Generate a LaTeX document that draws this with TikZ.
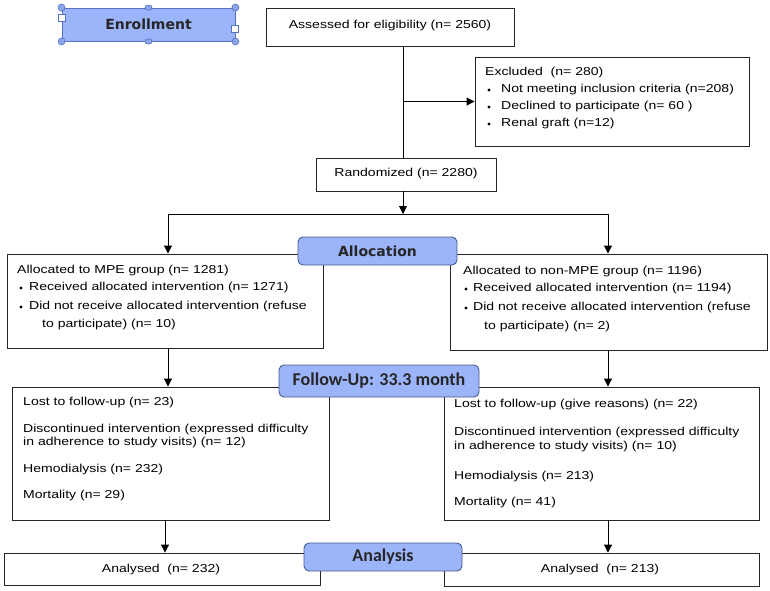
\documentclass[tikz,border=0pt]{standalone}
\usepackage{fontspec}
\setmainfont{Liberation Sans}[FakeStretch=1.22]
\newfontfamily\lblfont{DejaVu Sans}
\newfontfamily\calfont{Carlito}
\usetikzlibrary{arrows.meta,shapes.geometric}
\definecolor{lblfill}{RGB}{155,180,250}
\definecolor{lbldraw}{RGB}{70,90,140}
\definecolor{hdlfill}{RGB}{140,165,235}
\definecolor{hdldraw}{RGB}{85,115,195}
\begin{document}
\begin{tikzpicture}[x=1pt,y=-1pt,
  box/.style={draw=black!85, line width=0.9pt, rectangle, inner sep=0pt},
  lbl/.style={draw=lbldraw, fill=lblfill, line width=0.9pt, rounded corners=5pt, inner sep=0pt},
  txt/.style={anchor=west, inner sep=0pt, font=\fontsize{11.5}{13}\selectfont},
  ctxt/.style={inner sep=0pt, font=\fontsize{11.5}{13}\selectfont},
  bul/.style={diamond, fill=black, inner sep=0pt, minimum size=3.6pt},
  arr/.style={line width=0.9pt, -{Triangle[length=8pt,width=8pt]}},
  ln/.style={line width=0.9pt},
  hc/.style={circle, draw=hdldraw, fill=hdlfill, line width=0.6pt, minimum size=7pt, inner sep=0pt},
  hs/.style={rectangle, draw=hdldraw, fill=white, line width=0.6pt, minimum size=7pt, inner sep=0pt},
  ho/.style={rectangle, rounded corners=2.5pt, draw=hdldraw, fill=hdlfill, line width=0.6pt, minimum width=7pt, minimum height=5pt, inner sep=0pt}]
\useasboundingbox (0,0) rectangle (770,590);

% boxes
\node[box, minimum width=248pt, minimum height=38pt] (assess) at (390,27) {};
\node[ctxt] (assessT) at (390,26) {Assessed for eligibility (n= 2560)};
\node[box, minimum width=274pt, minimum height=89pt] (excl) at (612,101.5) {};
\node[box, minimum width=180pt, minimum height=33pt] (rand) at (406,174.5) {};
\node[ctxt] (randT) at (406,174) {Randomized (n= 2280)};
\node[box, minimum width=316pt, minimum height=94pt] (allocL) at (165,301) {};
\node[box, minimum width=317pt, minimum height=96pt] (allocR) at (608.5,302) {};
\node[box, minimum width=317pt, minimum height=133pt] (fuL) at (170.5,453.5) {};
\node[box, minimum width=315pt, minimum height=133pt] (fuR) at (601.5,453.5) {};
\node[box, minimum width=316pt, minimum height=32pt] (anL) at (162,569) {};
\node[box, minimum width=315pt, minimum height=33pt] (anR) at (601.5,569.5) {};

% excluded text
\node[txt] (ex0) at (485,73) {Excluded\ \ (n= 280)};
\node[bul] (exb1) at (489,90) {};
\node[txt] (ex1) at (501,90) {Not meeting inclusion criteria (n=208)};
\node[bul] (exb2) at (489,107) {};
\node[txt] (ex2) at (501,107) {Declined to participate (n= 60 )};
\node[bul] (exb3) at (489,124) {};
\node[txt] (ex3) at (501,124) {Renal graft (n=12)};

% allocation texts
\node[txt] (al0) at (17,271) {Allocated to MPE group (n= 1281)};
\node[bul] (alb1) at (21,288) {};
\node[txt] (al1) at (29,288) {Received allocated intervention (n= 1271)};
\node[bul] (alb2) at (21,307) {};
\node[txt] (al2) at (29,307) {Did not receive allocated intervention (refuse};
\node[txt] (al3) at (42,325) {to participate) (n= 10)};

\node[txt] (ar0) at (463,272) {Allocated to non-MPE group (n= 1196)};
\node[bul] (arb1) at (466,289) {};
\node[txt] (ar1) at (473,289) {Received allocated intervention (n= 1194)};
\node[bul] (arb2) at (466,308) {};
\node[txt] (ar2) at (473,308) {Did not receive allocated intervention (refuse};
\node[txt] (ar3) at (484,327) {to participate) (n= 2)};

% follow-up texts
\node[txt] (fl1) at (23,403) {Lost to follow-up (n= 23)};
\node[txt] (fl2) at (23,430) {Discontinued intervention (expressed difficulty};
\node[txt] (fl3) at (23,443) {in adherence to study visits) (n= 12)};
\node[txt] (fl4) at (23,470) {Hemodialysis (n= 232)};
\node[txt] (fl5) at (23,496) {Mortality (n= 29)};

\node[txt] (fr1) at (454,405) {Lost to follow-up (give reasons) (n= 22)};
\node[txt] (fr2) at (454,433) {Discontinued intervention (expressed difficulty};
\node[txt] (fr3) at (454,447) {in adherence to study visits) (n= 10)};
\node[txt] (fr4) at (454,477) {Hemodialysis (n= 213)};
\node[txt] (fr5) at (454,503) {Mortality (n= 41)};

\node[ctxt] (anLT) at (161,570) {Analysed\ \ (n= 232)};
\node[ctxt] (anRT) at (600,570) {Analysed\ \ (n= 213)};

% connectors
\coordinate (tr) at (403,0);
\coordinate (split) at (403,214);
\coordinate (sL) at (168,214);
\coordinate (sR) at (608,214);
\coordinate (aL) at (165,0);
\draw[ln] (assess.south -| tr) -- (rand.north -| tr);
\draw[arr] (tr |- excl.west) -- (excl.west);
\draw[arr] (rand.south -| split) -- (split);
\draw[ln] (sL) -- (sR);
\draw[arr] (sL) -- (allocL.north -| sL);
\draw[arr] (sR) -- (allocR.north -| sR);
\draw[arr] (allocL.south -| sL) -- (fuL.north -| sL);
\draw[arr] (allocR.south -| sR) -- (fuR.north -| sR);
\draw[arr] (fuL.south -| aL) -- (anL.north -| aL);
\draw[arr] (fuR.south -| sR) -- (anR.north -| sR);

% labels
\node[lbl, rounded corners=0pt, draw=hdldraw, minimum width=173pt, minimum height=33pt, font=\lblfont\bfseries\fontsize{14}{16}\selectfont, text=black!85] (enroll) at (148.5,24.5) {Enrollment};
\node[lbl, minimum width=159pt, minimum height=28pt, font=\lblfont\bfseries\fontsize{14}{16}\selectfont, text=black!85] (alloc) at (377.5,251) {Allocation};
\node[lbl, minimum width=200pt, minimum height=32pt, font=\calfont\bfseries\fontsize{18}{20}\selectfont, text=black!85] (fu) at (379,381) {Follow-Up: 33.3 month};
\node[lbl, minimum width=158pt, minimum height=28pt, font=\calfont\bfseries\fontsize{18}{20}\selectfont, text=black!85] (anl) at (383,557) {Analysis};

% selection handles on Enrollment
\node[hc] (h1) at (enroll.north west) {};
\node[hc] (h2) at (enroll.north east) {};
\node[hc] (h3) at (enroll.south west) {};
\node[hc] (h4) at (enroll.south east) {};
\node[ho] (h5) at (enroll.north) {};
\node[ho] (h6) at (enroll.south) {};
\node[hs] (h7) at (62,18) {};
\node[hs] (h8) at (235,29) {};
\end{tikzpicture}
\end{document}
